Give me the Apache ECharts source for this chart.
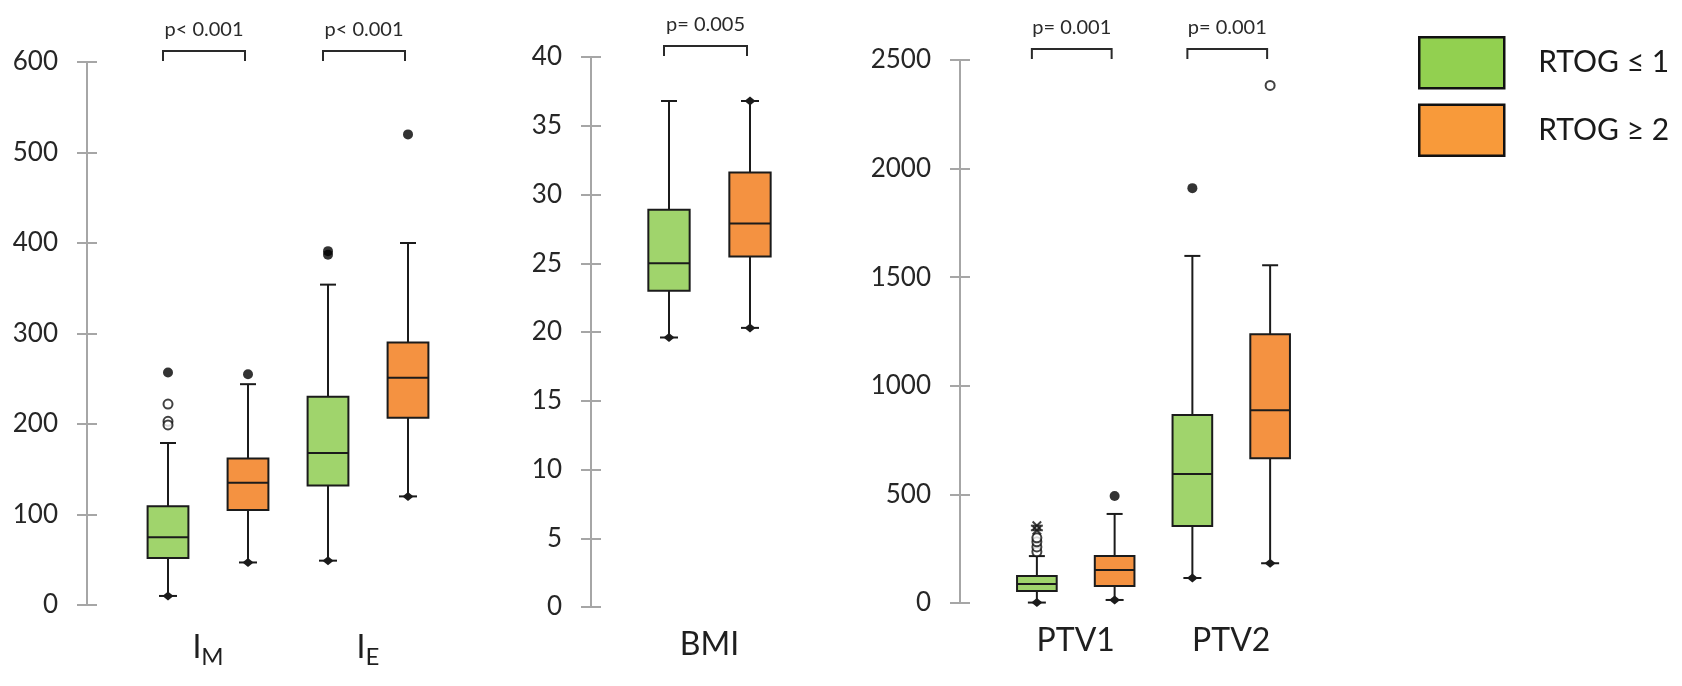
<!DOCTYPE html>
<html>
<head>
<meta charset="utf-8">
<script src="https://cdn.jsdelivr.net/npm/echarts@6/dist/echarts.min.js"></script>
<style>
  html, body { margin: 0; padding: 0; background: #fff; }
  #chart { width: 1682px; height: 686px; }
</style>
</head>
<body>
<div id="chart"></div>
<script>
// two groups, drawn side by side inside each variable
const groupNames = ['RTOG ≤ 1', 'RTOG ≥ 2'];

// box stats per group: [min, Q1, median, Q3, max]
const imBoxes = [[10, 52, 75, 109, 179], [47, 105, 135, 162, 244]];
const ieBoxes = [[49, 132, 168, 230, 354], [120, 207, 251, 290, 400]];
const bmiBoxes = [[19.6, 23.0, 25.0, 28.9, 36.8], [20.3, 25.5, 27.9, 31.6, 36.8]];
const ptv1Boxes = [[2, 55, 87, 124, 216], [14, 78, 152, 216, 410]];
const ptv2Boxes = [[115, 355, 594, 866, 1598], [183, 666, 887, 1237, 1555]];

// outliers per group (filled dot / open circle / asterisk)
const imFilled = [[257], [255]];
const imOpen = [[222, 203, 199], []];
const ieFilled = [[391, 387], [520]];
const ieOpen = [[], []];
const bmiFilled = [[], []];
const bmiOpen = [[], []];
const ptv1Filled = [[], [493]];
const ptv1Open = [[236, 258, 282, 300], []];
const ptv1Extreme = [[335, 356], []];
const ptv2Filled = [[1910], []];
const ptv2Open = [[], [2383]];

// p values over each variable
const p1Labels = ['p< 0.001', 'p< 0.001'];
const p2Labels = ['p= 0.005'];
const p3Labels = ['p= 0.001', 'p= 0.001'];

// axis ranges: [min, max, step]
const p1Ticks = [0, 600, 100];
const p2Ticks = [0, 40, 5];
const p3Ticks = [0, 2500, 500];

const boxColors = ['#a0d46c', '#f49241'];
const legendColors = ['#92d050', '#f89a3a'];
const ink = '#1b1b1b';
const font = 'Lato, "Open Sans", sans-serif';

const panels = [
  { vars: ['I_M', 'I_E'], boxes: [imBoxes, ieBoxes], filled: [imFilled, ieFilled], open: [imOpen, ieOpen],
    extreme: null, p: p1Labels, ticks: p1Ticks, topDiamond: [[0, 0], [0, 0]],
    grid: { left: 128, top: 62, width: 320, height: 543 }, yOffset: 41 },
  { vars: ['BMI'], boxes: [bmiBoxes], filled: [bmiFilled], open: [bmiOpen],
    extreme: null, p: p2Labels, ticks: p2Ticks, topDiamond: [[0, 1]],
    grid: { left: 628.5, top: 57, width: 162, height: 550 }, yOffset: 37.5 },
  { vars: ['PTV1', 'PTV2'], boxes: [ptv1Boxes, ptv2Boxes], filled: [ptv1Filled, ptv2Filled], open: [ptv1Open, ptv2Open],
    extreme: [ptv1Extreme, null], p: p3Labels, ticks: p3Ticks, topDiamond: [[0, 0], [0, 0]],
    grid: { left: 998, top: 60, width: 311, height: 543 }, yOffset: 38 }
];

function diamond(cx, y) {
  return {
    type: 'group',
    children: [
      { type: 'line', shape: { x1: cx - 9, y1: y, x2: cx + 9, y2: y }, style: { stroke: ink, lineWidth: 2 } },
      { type: 'polygon', shape: { points: [[cx - 5.5, y], [cx, y - 4.5], [cx + 5.5, y], [cx, y + 4.5]] }, style: { fill: ink } }
    ]
  };
}

function renderBox(params, api) {
  const x = api.value(0);
  const pMin = api.coord([x, api.value(1)]);
  const pQ1 = api.coord([x, api.value(2)]);
  const pMed = api.coord([x, api.value(3)]);
  const pQ3 = api.coord([x, api.value(4)]);
  const pMax = api.coord([x, api.value(5)]);
  const bw = api.size([1, 0])[0] * 0.51;
  const cx = pMed[0];
  const line = { stroke: ink, lineWidth: 2 };
  const top = api.value(6)
    ? diamond(cx, pMax[1])
    : { type: 'line', shape: { x1: cx - 8, y1: pMax[1], x2: cx + 8, y2: pMax[1] }, style: line };
  return {
    type: 'group',
    children: [
      { type: 'line', shape: { x1: cx, y1: pQ3[1], x2: cx, y2: pMax[1] }, style: line },
      { type: 'line', shape: { x1: cx, y1: pQ1[1], x2: cx, y2: pMin[1] }, style: line },
      { type: 'rect', shape: { x: cx - bw / 2, y: pQ3[1], width: bw, height: pQ1[1] - pQ3[1] },
        style: { fill: api.visual('color'), stroke: ink, lineWidth: 2 } },
      { type: 'line', shape: { x1: cx - bw / 2, y1: pMed[1], x2: cx + bw / 2, y2: pMed[1] }, style: line },
      diamond(cx, pMin[1]),
      top
    ]
  };
}

function bracketRenderer(labels, yMax) {
  return function (params, api) {
    const a = api.coord([api.value(0), yMax]);
    const b = api.coord([api.value(1), yMax]);
    const x1 = a[0] - 5, x2 = b[0] - 3, y = a[1] - 1, yt = y - 10;
    return {
      type: 'group',
      children: [
        { type: 'polyline', shape: { points: [[x1, y], [x1, yt], [x2, yt], [x2, y]] },
          style: { stroke: '#2a2a2a', lineWidth: 2, fill: null } },
        { type: 'text', style: { text: labels[api.value(2)], x: (x1 + x2) / 2, y: yt - 21,
          align: 'center', verticalAlign: 'middle', font: '20px ' + font, fill: '#2a2a2a' } }
      ]
    };
  };
}

const xAxis = [], yAxis = [], grid = [], series = [];

panels.forEach((pn, k) => {
  grid.push(pn.grid);
  const slots = [];
  pn.vars.forEach(v => groupNames.forEach(g => slots.push(v + ' ' + g)));

  xAxis.push({
    type: 'category', gridIndex: k, data: slots,
    axisLine: { show: false }, axisTick: { show: false }, axisLabel: { show: false }
  });
  xAxis.push({
    type: 'category', gridIndex: k, data: pn.vars, position: 'bottom',
    axisLine: { show: false }, axisTick: { show: false },
    axisLabel: {
      margin: 22, color: '#1f1f1f', fontFamily: font,
      formatter: v => {
        const parts = v.split('_');
        return parts.length > 1 ? '{m|' + parts[0] + '}{s|' + parts[1] + '}' : '{m|' + v + '}';
      },
      rich: {
        m: { fontSize: 32, fontFamily: font, color: '#1f1f1f' },
        s: { fontSize: 24, fontFamily: font, color: '#1f1f1f', padding: [18, 0, 0, 0] }
      }
    }
  });

  const [ymin, ymax, step] = pn.ticks;
  const yBase = {
    type: 'value', gridIndex: k, min: ymin, max: ymax, interval: step,
    position: 'left', offset: pn.yOffset, splitLine: { show: false }
  };
  yAxis.push(Object.assign({}, yBase, {
    axisLine: { show: true, lineStyle: { color: '#a6a6a6', width: 2 } },
    axisTick: { show: true, length: 10, lineStyle: { color: '#a6a6a6', width: 2 } },
    axisLabel: { margin: 29, fontSize: 26, fontFamily: font, color: '#262626', formatter: v => String(v) }
  }));
  yAxis.push(Object.assign({}, yBase, {
    axisLine: { show: false },
    axisTick: { show: true, inside: true, length: 10, lineStyle: { color: '#a6a6a6', width: 2 } },
    axisLabel: { show: false }
  }));

  const xi = 2 * k, yi = 2 * k;

  groupNames.forEach((g, gi) => {
    const data = pn.boxes.map((bx, vi) => [vi * 2 + gi].concat(bx[gi], pn.topDiamond[vi][gi]));
    series.push({
      type: 'custom', name: g, xAxisIndex: xi, yAxisIndex: yi,
      itemStyle: { color: boxColors[gi] },
      encode: { x: 0, y: [1, 2, 3, 4, 5] },
      renderItem: renderBox, data, z: 2
    });
  });

  const filled = [], open = [], extreme = [];
  pn.vars.forEach((v, vi) => groupNames.forEach((g, gi) => {
    pn.filled[vi][gi].forEach(val => filled.push([vi * 2 + gi, val]));
    pn.open[vi][gi].forEach(val => open.push([vi * 2 + gi, val]));
    if (pn.extreme && pn.extreme[vi]) pn.extreme[vi][gi].forEach(val => extreme.push([vi * 2 + gi, val]));
  }));
  series.push({
    type: 'scatter', xAxisIndex: xi, yAxisIndex: yi, data: filled, symbol: 'circle', symbolSize: 10,
    itemStyle: { color: '#000' }, silent: true, z: 3
  });
  series.push({
    type: 'scatter', xAxisIndex: xi, yAxisIndex: yi, data: open, symbol: 'circle', symbolSize: 9,
    itemStyle: { color: '#fff', borderColor: '#111', borderWidth: 2 }, silent: true, z: 3
  });
  if (extreme.length) {
    series.push({
      type: 'scatter', xAxisIndex: xi, yAxisIndex: yi, data: extreme, symbolSize: 12,
      symbol: 'path://M-1,-6L1,-6L1,-1L6,-1L6,1L1,1L1,6L-1,6L-1,1L-6,1L-6,-1L-1,-1Z',
      symbolRotate: 45, itemStyle: { color: '#111' }, silent: true, z: 4
    });
    series.push({
      type: 'scatter', xAxisIndex: xi, yAxisIndex: yi, data: extreme, symbolSize: [12, 2],
      symbol: 'rect', itemStyle: { color: '#111' }, silent: true, z: 4
    });
  }

  series.push({
    type: 'custom', xAxisIndex: xi, yAxisIndex: yi, clip: false, silent: true,
    renderItem: bracketRenderer(pn.p, ymax),
    data: pn.vars.map((v, vi) => [vi * 2, vi * 2 + 1, vi]),
    encode: { x: [0, 1] }
  });
});

const chart = echarts.init(document.getElementById('chart'));
chart.setOption({
  animation: false,
  backgroundColor: '#fff',
  grid, xAxis, yAxis, series,
  legend: {
    orient: 'vertical', left: 1418, top: 36, padding: 0,
    icon: 'rect', itemWidth: 85, itemHeight: 51, itemGap: 14,
    data: groupNames.map((g, gi) => ({ name: g, itemStyle: { color: legendColors[gi], borderColor: '#111', borderWidth: 2.5 } })),
    textStyle: { fontSize: 30, fontFamily: font, color: '#1a1a1a', padding: [0, 0, 0, 29] }
  }
});
</script>
</body>
</html>
